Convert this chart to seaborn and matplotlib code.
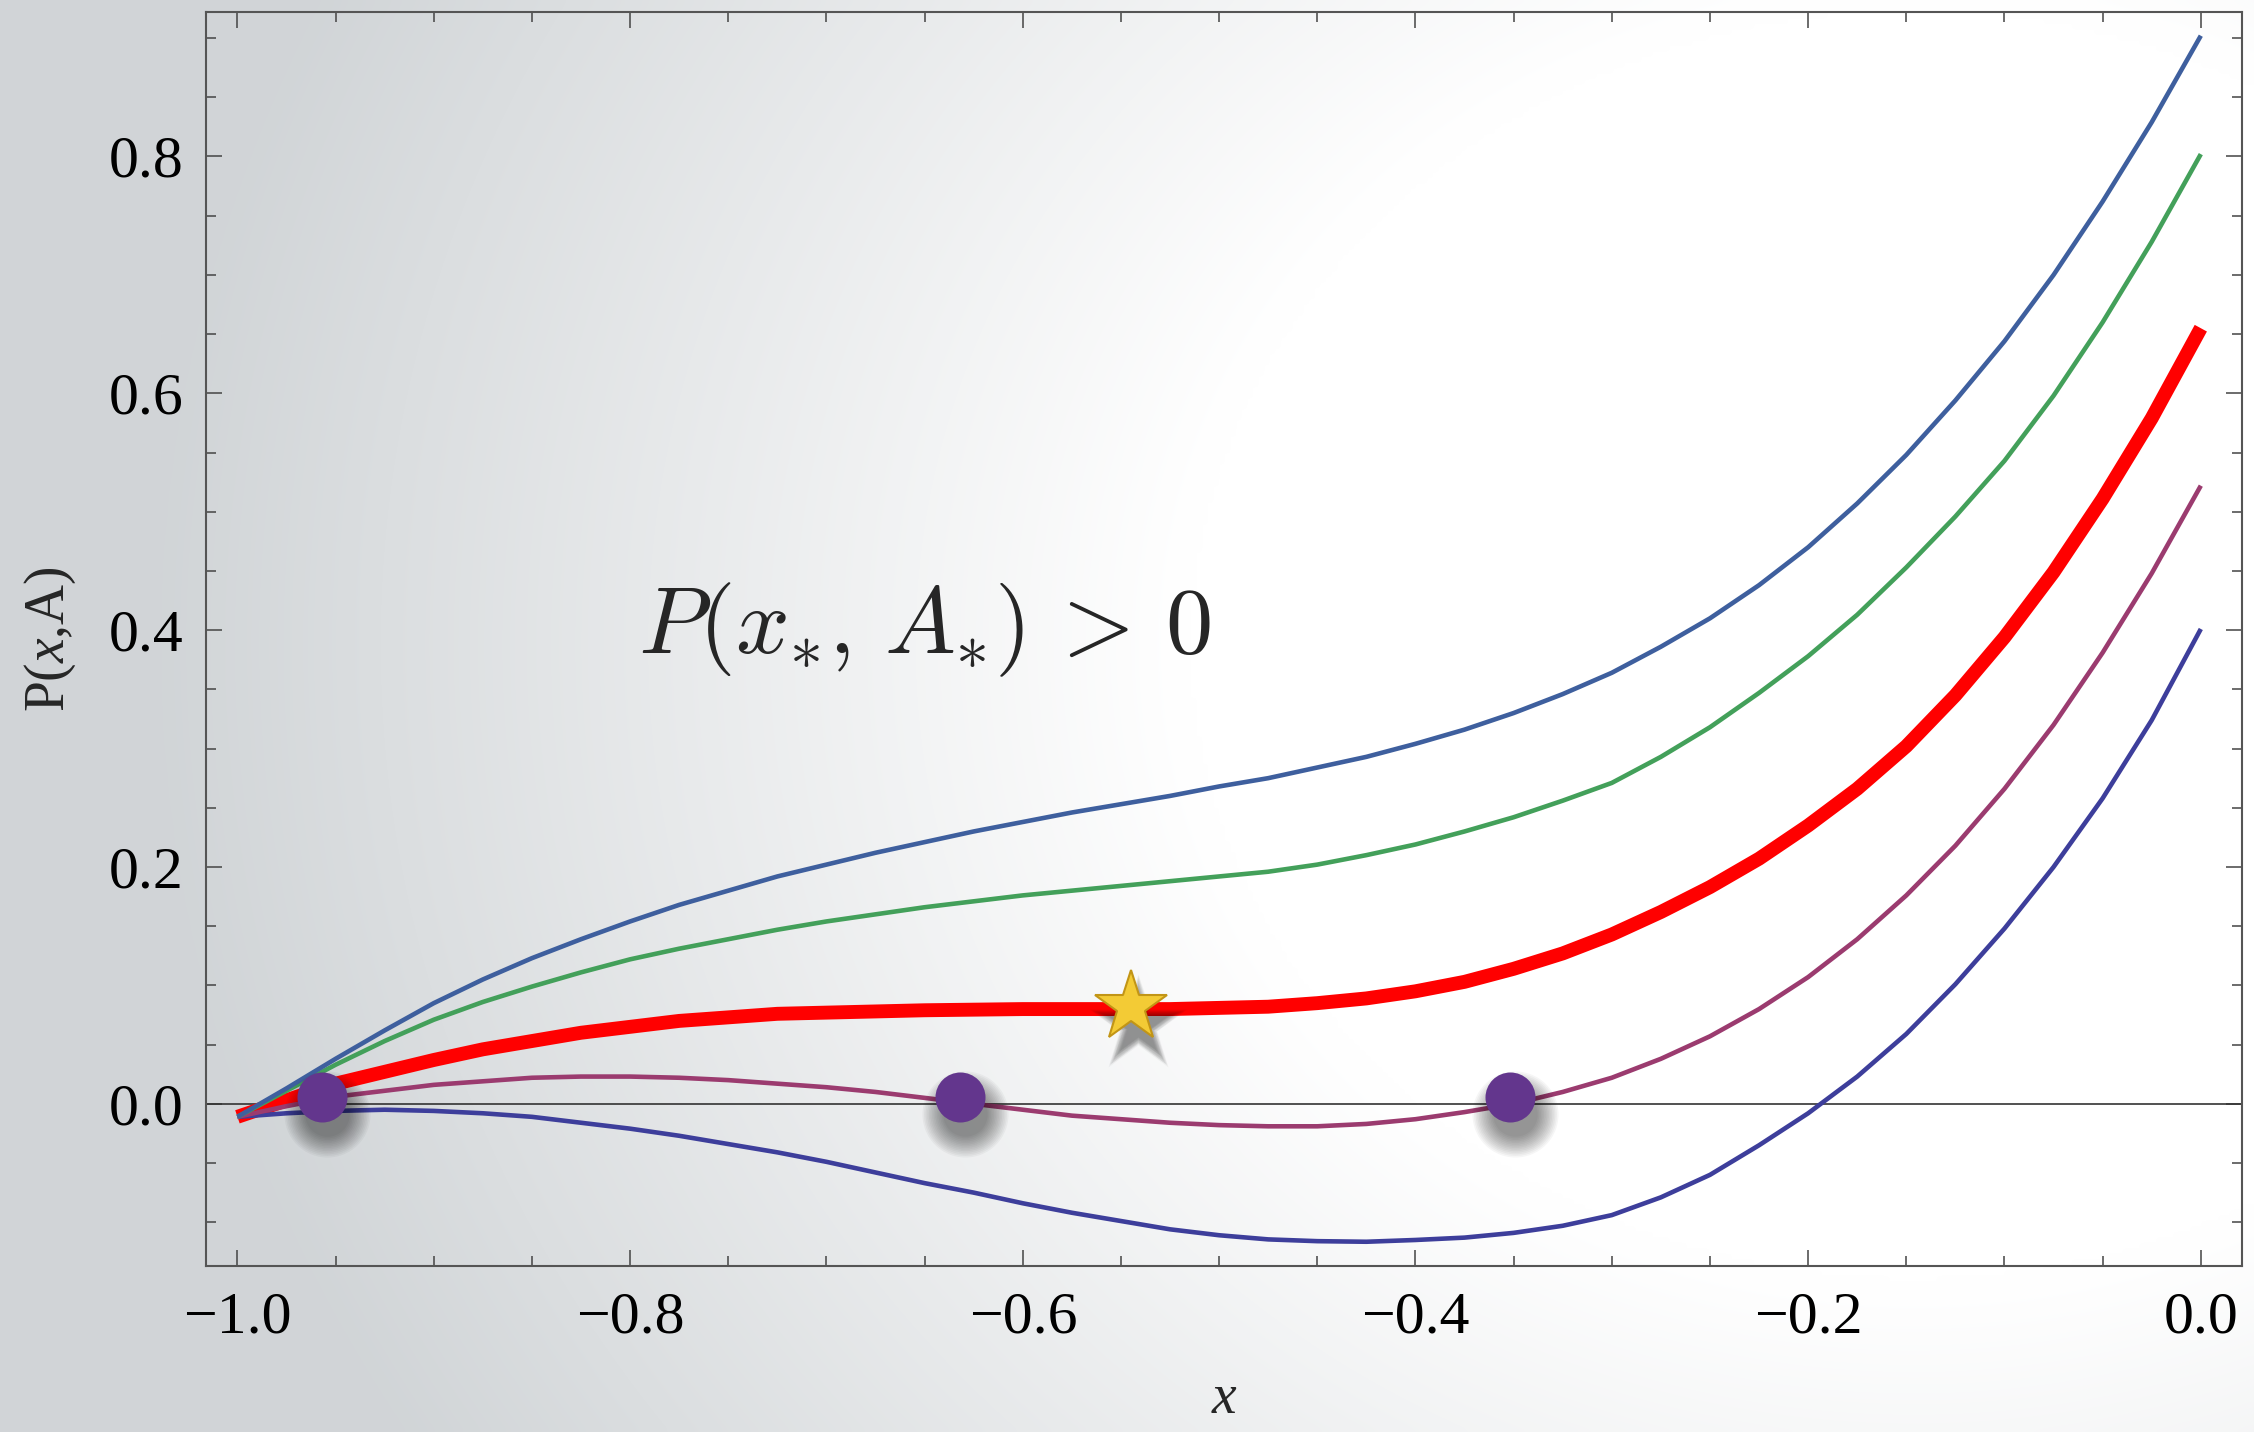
import numpy as np
import matplotlib
matplotlib.use('Agg')
import matplotlib.pyplot as plt
import matplotlib.transforms as mtransforms
from matplotlib.ticker import MultipleLocator, FuncFormatter
import seaborn as sns

# values (every 0.025 in x)
x_vals = [-1.0, -0.975, -0.95, -0.925, -0.9, -0.875, -0.85, -0.825, -0.8, -0.775,
          -0.75, -0.725, -0.7, -0.675, -0.65, -0.625, -0.6, -0.575, -0.55, -0.525,
          -0.5, -0.475, -0.45, -0.425, -0.4, -0.375, -0.35, -0.325, -0.3, -0.275,
          -0.25, -0.225, -0.2, -0.175, -0.15, -0.125, -0.1, -0.075, -0.05, -0.025, 0.0]
p_a1 = [-0.011, 0.013, 0.038, 0.062, 0.085, 0.105, 0.123, 0.139, 0.154, 0.168,
        0.180, 0.192, 0.202, 0.212, 0.221, 0.230, 0.238, 0.246, 0.253, 0.260,
        0.268, 0.275, 0.284, 0.293, 0.304, 0.316, 0.330, 0.346, 0.364, 0.386,
        0.410, 0.438, 0.470, 0.507, 0.548, 0.594, 0.644, 0.700, 0.762, 0.829, 0.902]
p_a2 = [-0.011, 0.011, 0.033, 0.053, 0.071, 0.086, 0.099, 0.111, 0.122, 0.131,
        0.139, 0.147, 0.154, 0.160, 0.166, 0.171, 0.176, 0.180, 0.184, 0.188,
        0.192, 0.196, 0.202, 0.210, 0.219, 0.230, 0.242, 0.256, 0.271, 0.293,
        0.318, 0.347, 0.378, 0.413, 0.453, 0.496, 0.543, 0.598, 0.660, 0.728, 0.802]
p_crit = [-0.011, 0.003, 0.017, 0.027, 0.037, 0.046, 0.053, 0.060, 0.065, 0.070,
          0.073, 0.076, 0.077, 0.078, 0.079, 0.0795, 0.080, 0.080, 0.080, 0.080,
          0.081, 0.082, 0.085, 0.089, 0.095, 0.103, 0.114, 0.127, 0.143, 0.162,
          0.183, 0.207, 0.235, 0.266, 0.302, 0.345, 0.394, 0.449, 0.511, 0.579, 0.655]
p_a4 = [-0.011, -0.002, 0.006, 0.011, 0.016, 0.019, 0.022, 0.023, 0.023, 0.022,
        0.020, 0.017, 0.014, 0.010, 0.005, 0.000, -0.005, -0.010, -0.013, -0.016,
        -0.018, -0.019, -0.019, -0.017, -0.013, -0.007, 0.000, 0.010, 0.022, 0.038,
        0.057, 0.080, 0.107, 0.139, 0.176, 0.218, 0.266, 0.320, 0.381, 0.448, 0.522]
p_a5 = [-0.011, -0.008, -0.006, -0.005, -0.006, -0.008, -0.011, -0.016, -0.021, -0.027,
        -0.034, -0.041, -0.049, -0.058, -0.067, -0.075, -0.084, -0.092, -0.099, -0.106,
        -0.111, -0.1145, -0.116, -0.1165, -0.115, -0.113, -0.109, -0.103, -0.094, -0.079,
        -0.060, -0.035, -0.008, 0.023, 0.059, 0.101, 0.148, 0.200, 0.258, 0.324, 0.401]

root_x = [-0.957, -0.632, -0.352]
root_y = [0.006, 0.006, 0.006]
star_x = [-0.545]
star_y = [0.082]

x_ticks = [-1.0, -0.8, -0.6, -0.4, -0.2, 0.0]
y_ticks = [0.0, 0.2, 0.4, 0.6, 0.8]

sns.set_theme(style='ticks')
plt.rcParams['font.family'] = ['Liberation Serif', 'DejaVu Serif']
plt.rcParams['mathtext.fontset'] = 'custom'
plt.rcParams['mathtext.rm'] = 'Liberation Serif'
plt.rcParams['mathtext.it'] = 'Liberation Serif:italic'

fig = plt.figure(figsize=(22.54, 14.32), dpi=100)

# soft grey-to-white backdrop
bg = fig.add_axes([0, 0, 1, 1], zorder=-1)
gx, gy = np.meshgrid(np.linspace(0, 1, 400), np.linspace(1, 0, 260))
d = np.sqrt(((gx - 0.85) / 0.65) ** 2 + ((gy - 0.55) / 0.9) ** 2)
g = np.clip((d - 0.5) / 0.7, 0, 1)[..., None]
grey = np.array([0.82, 0.835, 0.845])
img = (1 - g) * np.ones(3) + g * grey
bg.imshow(img, extent=[0, 1, 0, 1], aspect='auto', interpolation='bicubic')
bg.axis('off')

ax = fig.add_axes([0.0914, 0.1159, 0.9033, 0.8757])
ax.set_facecolor('none')

ax.axhline(0, color='#333333', lw=1.2, zorder=1.5)

sns.lineplot(x=x_vals, y=p_crit, color='#ff0000', lw=10, ax=ax, zorder=2,
             solid_capstyle='butt', solid_joinstyle='round')
curves = [(p_a5, '#3d3e9b'), (p_a4, '#9b3b6f'), (p_a2, '#43a05a'), (p_a1, '#3e5f9e')]
for vals, col in curves:
    sns.lineplot(x=x_vals, y=vals, color=col, lw=3.3, ax=ax, zorder=3,
                 solid_capstyle='butt', solid_joinstyle='round')


def soft_shadow(xs, ys, marker, size, dx, dy, layers=14):
    tr = mtransforms.offset_copy(ax.transData, fig=fig, x=dx, y=dy, units='dots')
    for i in range(layers):
        s = size + 30 * (1 - i / (layers - 1)) - 4
        ax.plot(xs, ys, ls='none', marker=marker, ms=s, color='black', alpha=0.035,
                mec='none', transform=tr, zorder=4)


soft_shadow(root_x, root_y, 'o', 36, 5, -17)
ax.plot(root_x, root_y, ls='none', marker='o', ms=36, color='#63368d', mec='none', zorder=5)

soft_shadow(star_x, star_y, '*', 48, 7, -18)
ax.plot(star_x, star_y, ls='none', marker='*', ms=54, color='#f3cb35', mec='#c29516',
        mew=1.5, zorder=5)

ax.text(-0.65, 0.40, r'$P(x_{*},\, A_{*})\,>\,0$', fontsize=68, ha='center', va='center',
        math_fontfamily='cm', zorder=6)

ax.set_xlim(-1.016, 0.021)
ax.set_ylim(-0.137, 0.922)
ax.set_xticks(x_ticks)
ax.set_yticks(y_ticks)
ax.xaxis.set_minor_locator(MultipleLocator(0.05))
ax.yaxis.set_minor_locator(MultipleLocator(0.05))


def fmt(v, pos):
    if abs(v) < 1e-9:
        v = 0.0
    return f'{v:.1f}'.replace('-', '\u2212')


ax.xaxis.set_major_formatter(FuncFormatter(fmt))
ax.yaxis.set_major_formatter(FuncFormatter(fmt))

ax.tick_params(which='both', direction='in', top=True, right=True, color='#444444',
               width=1.1, labelsize=43, labelcolor='black')
ax.tick_params(which='major', length=11.5)
ax.tick_params(which='minor', length=7.2)
ax.tick_params(axis='x', pad=18)
ax.tick_params(axis='y', pad=16)
for sp in ax.spines.values():
    sp.set_color('#555555')
    sp.set_linewidth(1.5)

ax.set_xlabel(r'$x$', fontsize=40, labelpad=20)
ax.set_ylabel(r'P($x$,A)', fontsize=40, labelpad=22)

fig.savefig('out.png', dpi=100)
